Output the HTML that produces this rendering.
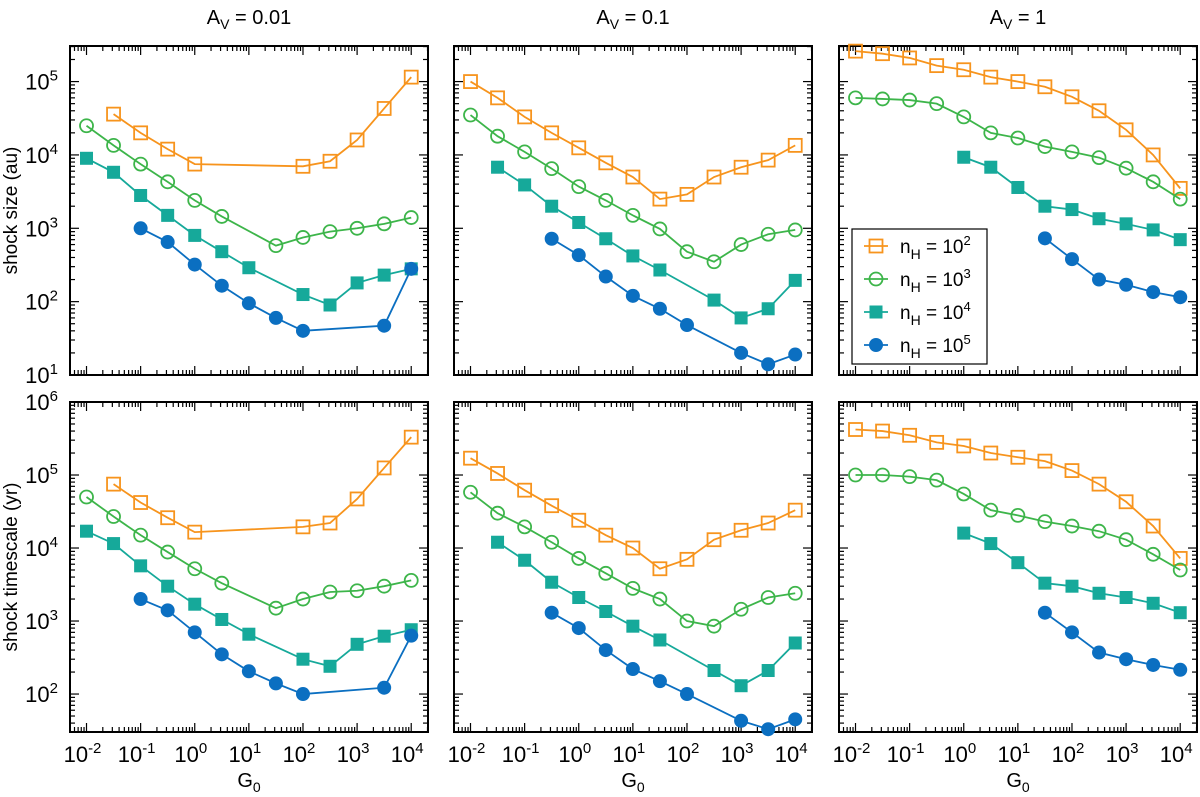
<!DOCTYPE html>
<html><head><meta charset="utf-8"><style>
html,body{margin:0;padding:0;background:#fff}
svg{display:block;font-family:"Liberation Sans",Arial,sans-serif}
</style></head><body>
<svg id="fig" width="1200" height="797" viewBox="0 0 1200 797" xmlns="http://www.w3.org/2000/svg"></svg>
<script>
const gValues=[0.01,0.0316,0.1,0.316,1,3.16,10,31.6,100,316,1000,3162,10000];
const seriesNames=["n2","n3","n4","n5"];
const columnTitles=["0.01","0.1","1"];
const xTickExps=[-2,-1,0,1,2,3,4];
const sizeTickExps=[1,2,3,4,5];
const timeTickExps=[2,3,4,5,6];
const N=null;
const size1_n2=[N,3.6e4,2e4,1.2e4,7.5e3,N,N,N,7e3,8.2e3,1.6e4,4.3e4,1.15e5];
const size1_n3=[2.5e4,1.35e4,7.5e3,4.3e3,2.4e3,1.45e3,N,580,750,900,1000,1150,1400];
const size1_n4=[9000,5800,2800,1500,800,480,290,N,125,90,180,230,280];
const size1_n5=[N,N,1000,650,320,165,95,60,40,N,N,47,280];
const size2_n2=[1e5,6e4,3.3e4,2e4,1.25e4,7.8e3,5e3,2.5e3,2.9e3,5e3,6.8e3,8.5e3,1.35e4];
const size2_n3=[3.5e4,1.8e4,1.1e4,6.5e3,3.7e3,2.4e3,1.5e3,980,480,350,600,830,950];
const size2_n4=[N,6.8e3,3.9e3,2e3,1.2e3,720,420,270,N,105,60,80,195];
const size2_n5=[N,N,N,720,430,220,120,80,48,N,20,14,19];
const size3_n2=[2.6e5,2.4e5,2.1e5,1.65e5,1.45e5,1.15e5,1e5,8.5e4,6.2e4,4e4,2.2e4,1e4,3.5e3];
const size3_n3=[6e4,5.8e4,5.6e4,5e4,3.3e4,2e4,1.7e4,1.3e4,1.1e4,9.2e3,6.6e3,4.3e3,2.5e3];
const size3_n4=[N,N,N,N,9.3e3,6.8e3,3.6e3,2e3,1.8e3,1.35e3,1.15e3,950,700];
const size3_n5=[N,N,N,N,N,N,N,730,380,200,170,135,115];
const time1_n2=[N,7.5e4,4.2e4,2.6e4,1.65e4,N,N,N,1.95e4,2.2e4,4.7e4,1.25e5,3.3e5];
const time1_n3=[5e4,2.7e4,1.5e4,8.8e3,5.2e3,3.3e3,N,1.5e3,2e3,2.5e3,2.6e3,3e3,3.6e3];
const time1_n4=[1.7e4,1.15e4,5.7e3,3e3,1.7e3,1.05e3,660,N,300,240,480,620,760];
const time1_n5=[N,N,2e3,1.4e3,700,350,205,140,100,N,N,122,630];
const time2_n2=[1.7e5,1.05e5,6.2e4,3.8e4,2.4e4,1.5e4,1e4,5.2e3,7e3,1.3e4,1.75e4,2.2e4,3.3e4];
const time2_n3=[5.8e4,3e4,1.95e4,1.2e4,7.2e3,4.5e3,2.8e3,2e3,1e3,850,1.45e3,2.1e3,2.4e3];
const time2_n4=[N,1.2e4,6.8e3,3.4e3,2.1e3,1.35e3,850,550,N,210,130,210,500];
const time2_n5=[N,N,N,1.3e3,800,400,220,150,100,N,43,33,45];
const time3_n2=[4.2e5,4e5,3.5e5,2.8e5,2.5e5,2e5,1.75e5,1.55e5,1.15e5,7.5e4,4.3e4,2e4,7.2e3];
const time3_n3=[1e5,1e5,9.5e4,8.5e4,5.5e4,3.3e4,2.8e4,2.3e4,2e4,1.7e4,1.3e4,8.2e3,5e3];
const time3_n4=[N,N,N,N,1.6e4,1.15e4,6.3e3,3.3e3,3e3,2.4e3,2.1e3,1.75e3,1.3e3];
const time3_n5=[N,N,N,N,N,N,N,1.3e3,700,370,300,250,215];

const sizeData=[[size1_n2,size1_n3,size1_n4,size1_n5],[size2_n2,size2_n3,size2_n4,size2_n5],[size3_n2,size3_n3,size3_n4,size3_n5]];
const timeData=[[time1_n2,time1_n3,time1_n4,time1_n5],[time2_n2,time2_n3,time2_n4,time2_n5],[time3_n2,time3_n3,time3_n4,time3_n5]];

const colors=["#f7941d","#3db54a","#16a99a","#0b6fc1"];
const markers=["osq","ocirc","fsq","fcirc"];
const NS="http://www.w3.org/2000/svg";
const svg=document.getElementById('fig');
function mk(tag,attrs,parent){const e=document.createElementNS(NS,tag);for(const k in attrs)e.setAttribute(k,attrs[k]);(parent||svg).appendChild(e);return e;}
const colX=[[70,428],[454,812],[839,1197]];
const rows=[{top:46,bot:375,ymin:1,ymax:5.485,ticks:sizeTickExps,data:sizeData,title:"shock size (au)"},
            {top:402,bot:732,ymin:1.48,ymax:6,ticks:timeTickExps,data:timeData,title:"shock timescale (yr)"}];
const XMIN=-2.305,XMAX=4.31;

rows.forEach((row,ri)=>{
  colX.forEach((cx,ci)=>{
    const g=mk('g',{});
    
    
    const xs=v=>cx[0]+(Math.log10(v)-XMIN)/(XMAX-XMIN)*(cx[1]-cx[0]);
    const ys=v=>row.bot-(Math.log10(v)-row.ymin)/(row.ymax-row.ymin)*(row.bot-row.top);
    for(let d=-3;d<=4;d++){for(let m=1;m<10;m++){const v=m*Math.pow(10,d);const lv=Math.log10(v);if(lv<XMIN||lv>XMAX)continue;const x=xs(v);const L=m===1?9:5;
      mk('line',{x1:x,y1:row.bot,x2:x,y2:row.bot-L,stroke:'#000','stroke-width':1.2},g);
      mk('line',{x1:x,y1:row.top,x2:x,y2:row.top+L,stroke:'#000','stroke-width':1.2},g);}}
    for(let d=1;d<=6;d++){for(let m=1;m<10;m++){const v=m*Math.pow(10,d);const lv=Math.log10(v);if(lv<row.ymin-1e-6||lv>row.ymax)continue;const y=ys(v);const L=m===1?9:5;
      mk('line',{x1:cx[0],y1:y,x2:cx[0]+L,y2:y,stroke:'#000','stroke-width':1.2},g);
      mk('line',{x1:cx[1],y1:y,x2:cx[1]-L,y2:y,stroke:'#000','stroke-width':1.2},g);}}
    const fr=mk('rect',{x:cx[0],y:row.top,width:cx[1]-cx[0],height:row.bot-row.top,fill:'none',stroke:'#000','stroke-width':2},g);
    
    
    if(ci===0){row.ticks.forEach(e=>{const t=mk('text',{x:cx[0]-12,y:ys(Math.pow(10,e))+8,'font-size':22,'text-anchor':'end'},g);
      
      
      t.innerHTML='10<tspan dy="-9" font-size="15">'+e+'</tspan>';});
      const yt=mk('text',{x:0,y:0,'font-size':19,'text-anchor':'middle',transform:'translate(17,'+((row.top+row.bot)/2)+') rotate(-90)'},g);
      
      
      yt.textContent=row.title;}
    if(ri===1){xTickExps.forEach(e=>{const t=mk('text',{x:xs(Math.pow(10,e))-4,y:row.bot+30,'font-size':22,'text-anchor':'middle'},g);
      
      
      t.innerHTML='10<tspan dy="-9" font-size="15">'+e+'</tspan>';});
      const xt=mk('text',{x:(cx[0]+cx[1])/2,y:row.bot+55,'font-size':20,'text-anchor':'middle'},g);
      
      
      xt.innerHTML='G<tspan dy="5" font-size="14">0</tspan>';}
    if(ri===0){const tt=mk('text',{x:(cx[0]+cx[1])/2,y:24,'font-size':20,'text-anchor':'middle'},g);
      
      
      tt.innerHTML='A<tspan dy="5" font-size="14">V</tspan><tspan dy="-5"> = '+columnTitles[ci]+'</tspan>';}
    row.data[ci].forEach((arr,si)=>{
      const sg=mk('g',{},g);
      
      
      const pts=[];arr.forEach((v,i)=>{if(v!=null)pts.push([xs(gValues[i]),ys(v)]);});
      mk('polyline',{points:pts.map(p=>p.join(',')).join(' '),fill:'none',stroke:colors[si],'stroke-width':1.8},sg);
      pts.forEach(p=>drawMarker(sg,markers[si],colors[si],p[0],p[1]));
    });
  });
});
function drawMarker(p,type,c,x,y){
  let e;
  if(type==='osq')e=mk('rect',{x:x-6.5,y:y-6.5,width:13,height:13,fill:'#fff','fill-opacity':0,stroke:c,'stroke-width':1.8},p);
  else if(type==='fsq')e=mk('rect',{x:x-6.5,y:y-6.5,width:13,height:13,fill:c},p);
  else if(type==='ocirc')e=mk('circle',{cx:x,cy:y,r:6.5,fill:'none',stroke:c,'stroke-width':1.8},p);
  else e=mk('circle',{cx:x,cy:y,r:7,fill:c},p);
  
  
}
const lg=mk('g',{});


mk('rect',{x:852,y:229,width:135,height:135,fill:'#fff',stroke:'#000','stroke-width':1.2},lg);
["2","3","4","5"].forEach((e,i)=>{
  const y=246+i*33;
  const eg=mk('g',{},lg);
  
  
  mk('line',{x1:864,y1:y,x2:888,y2:y,stroke:colors[i],'stroke-width':1.8},eg);
  drawMarker(eg,markers[i],colors[i],876,y);
  const t=mk('text',{x:900,y:y+7,'font-size':19},eg);
  t.innerHTML='n<tspan dy="6" font-size="14">H</tspan><tspan dy="-6"> = 10</tspan><tspan dy="-8" font-size="13">'+e+'</tspan>';
});
</script>
</body></html>
